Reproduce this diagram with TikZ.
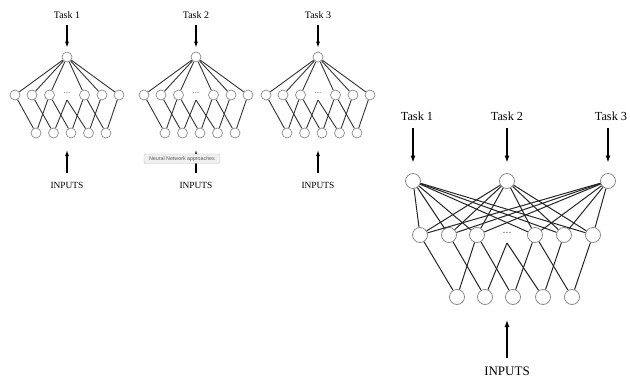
\documentclass[tikz,border=0pt]{standalone}
\usepackage{fontspec}
\setmainfont{Liberation Serif}
\newfontfamily\tipfont{Liberation Sans}
\usetikzlibrary{arrows.meta}
\begin{document}
\begin{tikzpicture}[x=1pt,y=-1pt,
  sneuron/.style={circle,draw=black!45,fill=white,line width=0.7pt,minimum size=10pt,inner sep=0pt},
  bneuron/.style={circle,draw=black!45,fill=white,line width=0.8pt,minimum size=15pt,inner sep=0pt},
  sconn/.style={draw=black!80,line width=0.9pt},
  bconn/.style={draw=black!85,line width=1pt},
  sarr/.style={draw=black,line width=1.1pt,-{Latex[length=6pt,width=4pt]}},
  barr/.style={draw=black,line width=1.2pt,-{Latex[length=7pt,width=5pt]}},
  slabel/.style={inner sep=0pt,font=\fontsize{10}{12}\selectfont},
  sinput/.style={inner sep=0pt,font=\fontsize{9.4}{11}\selectfont},
  blabel/.style={inner sep=0pt,font=\fontsize{12.3}{15}\selectfont},
  binput/.style={inner sep=0pt,font=\fontsize{13}{15}\selectfont},
  sdots/.style={inner sep=0pt,font=\fontsize{9}{10}\selectfont,text=black!60},
  bdots/.style={inner sep=0pt,font=\fontsize{12}{13}\selectfont,text=black!60},
  tipbox/.style={draw=black!25,fill=black!6,rounded corners=1.5pt,inner sep=0pt,minimum width=76pt,minimum height=9.5pt,font=\tipfont\fontsize{5.3}{6}\selectfont,text=black!65}
]
\useasboundingbox (0,0) rectangle (630,378);

% ---------- three small single-task networks ----------
\foreach \n/\c in {1/67,2/196,3/318}{
  \node[slabel,anchor=base] (task\n) at (\c,18) {Task \n};
  \node[sneuron] (t\n) at (\c,57) {};
  \draw[sarr,shorten <=7pt,shorten >=4pt] (task\n) -- (t\n);
  \foreach \i/\dx in {1/-52,2/-35,3/-17.5,5/17.5,6/35,7/52}{
    \node[sneuron] (h\n-\i) at ({\c+\dx},95) {};
    \draw[sconn] (t\n) -- (h\n-\i);
  }
  \node[sdots] (d\n) at (\c,93) {...};
  \coordinate (h\n-4) at (\c,100);
  \foreach \i/\dx in {1/-31,2/-13.5,3/4,4/21.5,5/39}{
    \node[sneuron] (b\n-\i) at ({\c+\dx},133) {};
  }
  \foreach \i in {1,...,5}{
    \pgfmathtruncatemacro\j{\i+2}
    \draw[sconn] (b\n-\i) -- (h\n-\i);
    \draw[sconn] (b\n-\i) -- (h\n-\j);
  }
  \node[sinput,anchor=base] (inp\n) at (\c,188) {INPUTS};
  \coordinate (ia\n) at (\c,150);
  \draw[sarr,shorten <=8.5pt] (inp\n.north) -- (ia\n);
}

% tooltip over the middle network's input arrow
\node[tipbox] (tooltip) at (182,158.7) {Neural Network approaches};

% ---------- large multi-task network ----------
\foreach \k/\x in {1/413,2/507,3/608}{
  \node[bneuron] (T\k) at (\x,181) {};
}
\node[blabel,anchor=base] (BT1) at (417,120) {Task 1};
\node[blabel,anchor=base] (BT2) at (507,120) {Task 2};
\node[blabel,anchor=base] (BT3) at (611,120) {Task 3};
\foreach \k in {1,2,3}{
  \draw[barr,shorten <=8pt,shorten >=10.5pt] (BT\k.south -| T\k) -- (T\k);
}

\foreach \i/\x in {1/420,2/449,3/477,5/535,6/564,7/593}{
  \node[bneuron] (H\i) at (\x,235) {};
}
\node[bdots] (BD) at (507,233) {...};
\coordinate (H4) at (507,243);

\foreach \i/\x in {1/457,2/485,3/513,4/543,5/572}{
  \node[bneuron] (B\i) at (\x,297) {};
}

\foreach \k in {1,2,3}{
  \foreach \i in {1,2,3,5,6,7}{
    \draw[bconn] (T\k) -- (H\i);
  }
}
\foreach \i in {1,...,5}{
  \pgfmathtruncatemacro\j{\i+2}
  \draw[bconn] (B\i) -- (H\i);
  \draw[bconn] (B\i) -- (H\j);
}

\node[binput,anchor=base] (BIN) at (507,375.5) {INPUTS};
\coordinate (BIA) at (507,320);
\draw[barr,shorten <=9pt] (BIN.north) -- (BIA);
\end{tikzpicture}
\end{document}
